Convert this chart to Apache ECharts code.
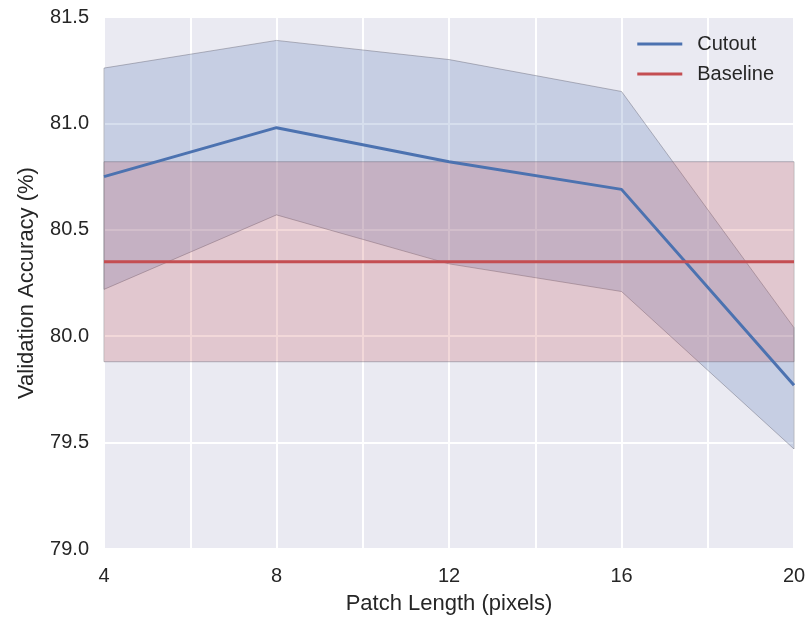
<!DOCTYPE html>
<html>
<head>
<meta charset="utf-8">
<script src="https://cdn.jsdelivr.net/npm/echarts@6/dist/echarts.min.js"></script>
<style>
  html, body { margin: 0; padding: 0; background: #fff; }
  #chart { width: 810px; height: 617px; }
</style>
</head>
<body>
<div id="chart"></div>
<script>
// patch lengths (x)
const patchLengths = [4, 8, 12, 16, 20]
// cutout mean and band
const cutoutMean = [80.75, 80.98, 80.82, 80.69, 79.77]
const cutoutUpper = [81.26, 81.39, 81.30, 81.15, 80.04]
const cutoutLower = [80.22, 80.57, 80.34, 80.21, 79.47]
// baseline mean and band
const baselineMean = 80.35
const baselineUpper = 80.82
const baselineLower = 79.88

const blue = '#4C72B0'
const red = '#C44E52'
const edge = 'rgba(110,110,125,0.6)'

const pts = (ys) => patchLengths.map((x, i) => [x, ys[i]])
const flat = (v) => patchLengths.map((x) => [x, v])

// band polygon built with the grid's own coordinate system
function bandSeries(upper, lower, fill) {
  return {
    type: 'custom',
    silent: true,
    z: 1,
    data: [0],
    renderItem: (params, api) => {
      const top = upper.map((p) => api.coord(p))
      const bottom = lower.map((p) => api.coord(p)).reverse()
      return {
        type: 'polygon',
        shape: { points: top.concat(bottom) },
        style: { fill: fill, stroke: edge, lineWidth: 0.8 },
      }
    },
  }
}

const chart = echarts.init(document.getElementById('chart'))

chart.setOption({
  animation: false,
  backgroundColor: '#ffffff',
  textStyle: { fontFamily: 'Liberation Sans, Arial, sans-serif' },
  grid: {
    left: 104,
    right: 16,
    top: 17,
    bottom: 68,
    outerBoundsMode: 'none',
    containLabel: false,
    show: true,
    backgroundColor: '#EAEAF2',
    borderWidth: 0,
  },
  legend: {
    data: ['Cutout', 'Baseline'],
    right: 31,
    top: 29,
    orient: 'vertical',
    icon: 'rect',
    itemWidth: 45,
    itemHeight: 3,
    itemGap: 10,
    textStyle: { fontSize: 20, color: '#262626', padding: [0, 0, 0, 10] },
  },
  xAxis: {
    type: 'value',
    min: 4,
    max: 20,
    interval: 2,
    name: 'Patch Length (pixels)',
    nameLocation: 'middle',
    nameGap: 44,
    nameTextStyle: { fontSize: 22, color: '#262626' },
    axisLine: { show: false },
    axisTick: { show: false },
    axisLabel: {
      fontSize: 20,
      color: '#262626',
      margin: 17,
      formatter: (v) => (v % 4 === 0 ? String(v) : ''),
    },
    splitLine: { show: true, lineStyle: { color: '#ffffff', width: 2 } },
  },
  yAxis: {
    type: 'value',
    min: 79.0,
    max: 81.5,
    interval: 0.5,
    name: 'Validation Accuracy (%)',
    nameLocation: 'middle',
    nameGap: 66,
    nameTextStyle: { fontSize: 22, color: '#262626' },
    axisLine: { show: false },
    axisTick: { show: false },
    axisLabel: {
      fontSize: 20,
      color: '#262626',
      margin: 15,
      formatter: (v) => v.toFixed(1),
    },
    splitLine: { show: true, lineStyle: { color: '#ffffff', width: 2 } },
  },
  series: [
    bandSeries(pts(cutoutUpper), pts(cutoutLower), 'rgba(76,114,176,0.23)'),
    bandSeries(flat(baselineUpper), flat(baselineLower), 'rgba(196,78,82,0.22)'),
    {
      name: 'Cutout',
      type: 'line',
      data: pts(cutoutMean),
      symbol: 'none',
      itemStyle: { color: blue },
      lineStyle: { color: blue, width: 3 },
      z: 3,
    },
    {
      name: 'Baseline',
      type: 'line',
      data: flat(baselineMean),
      symbol: 'none',
      itemStyle: { color: red },
      lineStyle: { color: red, width: 3 },
      z: 3,
    },
  ],
})
</script>
</body>
</html>
